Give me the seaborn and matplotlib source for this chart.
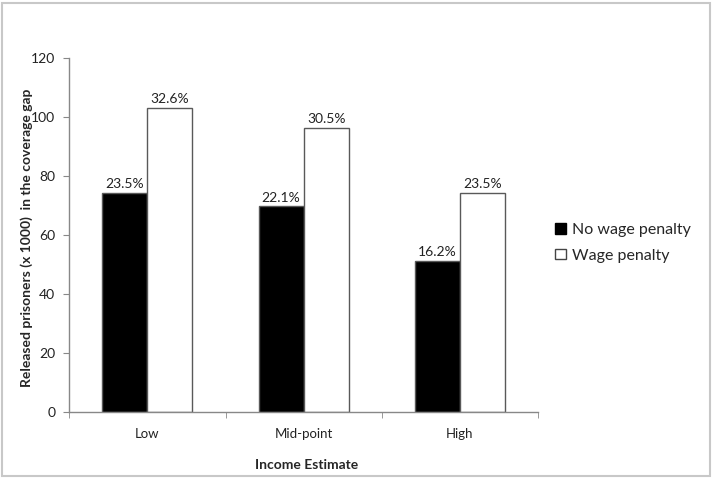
from matplotlib import pyplot as plt
from matplotlib.patches import Rectangle
import numpy as np
import pandas as pd
import seaborn as sns

categories = ["Low", "Mid-point", "High"]
series = ["No wage penalty", "Wage penalty"]
no_penalty = [74.4, 69.8, 51.2]
wage_penalty = [103.3, 96.5, 74.4]
no_penalty_labels = ["23.5%", "22.1%", "16.2%"]
wage_penalty_labels = ["32.6%", "30.5%", "23.5%"]

df = pd.DataFrame({
    "cat": categories * 2,
    "series": [series[0]] * 3 + [series[1]] * 3,
    "value": no_penalty + wage_penalty,
})

sns.set_style("white")
plt.rcParams["font.family"] = ["Lato", "DejaVu Sans"]

fig = plt.figure(figsize=(7.13, 4.79), dpi=100)
ax = fig.add_axes([69.3 / 713, 1 - 412.3 / 479, (538 - 69.3) / 713, (412.3 - 58.3) / 479])

sns.barplot(data=df, x="cat", y="value", hue="series", order=categories,
            hue_order=series, palette=["black", "white"], width=0.576,
            edgecolor="#595959", linewidth=1, ax=ax, legend=False)

labels = [no_penalty_labels, wage_penalty_labels]
for cont, labs in zip(ax.containers, labels):
    ax.bar_label(cont, labels=labs, padding=2, fontsize=10, color="#222222")

ax.set_xlim(-0.5, 2.5)
ax.set_ylim(0, 120)
ax.set_yticks(np.arange(0, 121, 20))
ax.tick_params(axis="y", which="major", direction="out", length=4, color="#888888",
               left=True, labelsize=10, pad=6, labelcolor="#222222")
ax.set_xticks(range(3))
ax.set_xticklabels(categories)
ax.tick_params(axis="x", which="major", length=0, labelsize=9.5, pad=11, labelcolor="#222222")
ax.set_xticks([-0.5, 0.5, 1.5, 2.5], minor=True)
ax.tick_params(axis="x", which="minor", direction="out", length=4, color="#888888", bottom=True)

for s in ["top", "right"]:
    ax.spines[s].set_visible(False)
for s in ["left", "bottom"]:
    ax.spines[s].set_color("#888888")
    ax.spines[s].set_linewidth(1)

ax.set_xlabel("")
ax.set_ylabel("")
fig.text(307 / 713, 1 - 465 / 479, "Income Estimate", fontsize=10, fontweight="bold",
         ha="center", va="center")
fig.text(27 / 713, 1 - 238 / 479, "Released prisoners (x 1000)  in the coverage gap",
         fontsize=10, fontweight="bold", rotation=90, ha="center", va="center")

handles = [Rectangle((0, 0), 1, 1, facecolor="black", edgecolor="black"),
           Rectangle((0, 0), 1, 1, facecolor="white", edgecolor="#444444")]
fig.legend(handles, series, loc="center left", bbox_to_anchor=(541 / 713, 1 - 243 / 479),
           frameon=False, fontsize=11.5, handlelength=0.65, handleheight=0.65,
           handletextpad=0.4, labelspacing=0.7)

fig.patches.append(Rectangle((2 / 713, 3 / 479), 708 / 713, 473 / 479, transform=fig.transFigure,
                             fill=False, edgecolor="#c8c8c8", linewidth=1.5))

fig.savefig("out.png", dpi=100)
